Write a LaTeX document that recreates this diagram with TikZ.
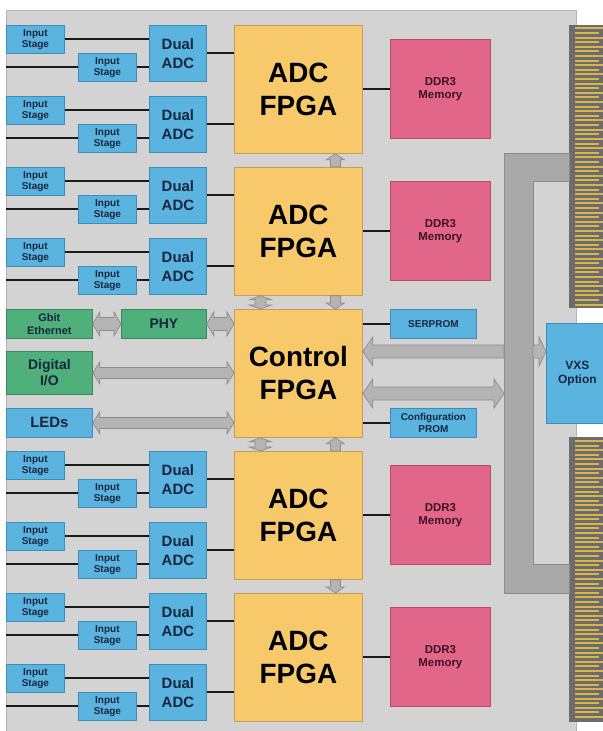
\documentclass[tikz,border=0pt]{standalone}
\usepackage{fontspec}
\setmainfont{Liberation Sans}
\usetikzlibrary{calc}
\definecolor{boardc}{HTML}{D3D3D3}
\definecolor{boardedge}{HTML}{B4B4B4}
\definecolor{bluec}{HTML}{5AB4DF}
\definecolor{blueedge}{HTML}{3C8DB8}
\definecolor{yelc}{HTML}{F7C96B}
\definecolor{yeledge}{HTML}{C49E52}
\definecolor{pinkc}{HTML}{E26689}
\definecolor{pinkedge}{HTML}{B84D6B}
\definecolor{greenc}{HTML}{4FB07B}
\definecolor{greenedge}{HTML}{3A8A5E}
\definecolor{busc}{HTML}{A9A9A9}
\definecolor{busedge}{HTML}{8A8A8A}
\definecolor{arrc}{HTML}{B4B4B4}
\definecolor{arredge}{HTML}{8C8C8C}
\definecolor{connc}{HTML}{6C6C6C}
\definecolor{goldc}{HTML}{D9B54E}
\definecolor{navy}{HTML}{17263D}
\definecolor{maroon}{HTML}{3E1424}
\definecolor{wirec}{HTML}{1A1A1A}
\newcommand\hdarrow[5]{\filldraw[barrow] let \p1=#1, \p2=#2 in
 (\x1,\y1) -- (\x1+#5,\y1+#4) -- (\x1+#5,\y1+#3) -- (\x2-#5,\y1+#3) -- (\x2-#5,\y1+#4) -- (\x2,\y1)
 -- (\x2-#5,\y1-#4) -- (\x2-#5,\y1-#3) -- (\x1+#5,\y1-#3) -- (\x1+#5,\y1-#4) -- cycle;}
\newcommand\hlarrow[5]{\filldraw[barrow] let \p1=#1, \p2=#2 in
 (\x1,\y1) -- (\x1+#5,\y1+#4) -- (\x1+#5,\y1+#3) -- (\x2,\y1+#3) -- (\x2,\y1-#3) -- (\x1+#5,\y1-#3) -- (\x1+#5,\y1-#4) -- cycle;}
\newcommand\hrarrow[5]{\filldraw[barrow] let \p1=#1, \p2=#2 in
 (\x1,\y1+#3) -- (\x2-#5,\y1+#3) -- (\x2-#5,\y1+#4) -- (\x2,\y1) -- (\x2-#5,\y1-#4) -- (\x2-#5,\y1-#3) -- (\x1,\y1-#3) -- cycle;}
\newcommand\vuarrow[5]{\filldraw[barrow] let \p1=#1, \p2=#2 in
 (\x1,\y1) -- (\x1+#4,\y1-#5) -- (\x1+#3,\y1-#5) -- (\x1+#3,\y2) -- (\x1-#3,\y2) -- (\x1-#3,\y1-#5) -- (\x1-#4,\y1-#5) -- cycle;}
\newcommand\vdnarrow[5]{\filldraw[barrow] let \p1=#1, \p2=#2 in
 (\x1,\y2) -- (\x1+#4,\y2+#5) -- (\x1+#3,\y2+#5) -- (\x1+#3,\y1) -- (\x1-#3,\y1) -- (\x1-#3,\y2+#5) -- (\x1-#4,\y2+#5) -- cycle;}
\newcommand\vdarrow[5]{\filldraw[barrow] let \p1=#1, \p2=#2 in
 (\x1,\y1) -- (\x1+#4,\y1-#5) -- (\x1+#3,\y1-#5) -- (\x1+#3,\y2+#5) -- (\x1+#4,\y2+#5) -- (\x1,\y2)
 -- (\x1-#4,\y2+#5) -- (\x1-#3,\y2+#5) -- (\x1-#3,\y1-#5) -- (\x1-#4,\y1-#5) -- cycle;}
\begin{document}
\begin{tikzpicture}[x=1bp,y=-1bp,
  box/.style={anchor=north west, inner sep=0pt, align=center, line width=0.8bp, font=\bfseries},
  fpga/.style={box, fill=yelc, draw=yeledge, minimum width=128bp, minimum height=128bp, text=black,
    font=\bfseries\fontsize{28}{33}\selectfont},
  dadc/.style={box, fill=bluec, draw=blueedge, minimum width=57bp, minimum height=56bp, text=navy,
    font=\bfseries\fontsize{15}{19}\selectfont},
  ins/.style={box, fill=bluec, draw=blueedge, minimum width=58bp, minimum height=28bp, text=navy,
    font=\bfseries\fontsize{10}{11.5}\selectfont},
  ddr/.style={box, fill=pinkc, draw=pinkedge, minimum width=100bp, minimum height=99bp, text=maroon,
    font=\bfseries\fontsize{11.5}{13}\selectfont},
  bluebox/.style={box, fill=bluec, draw=blueedge, text=navy},
  greenbox/.style={box, fill=greenc, draw=greenedge, text=navy},
  wire/.style={draw=wirec, line width=2bp},
  barrow/.style={fill=arrc, draw=arredge, line width=0.7bp},
  goldline/.style={draw=goldc, line width=2bp}]
\useasboundingbox (0,0) rectangle (603,731);
\fill[white] (0,0) rectangle (603,731);
\filldraw[fill=boardc, draw=boardedge, line width=0.8bp] (6,10) rectangle (576,736);
\coordinate (bl) at (6,0);

% connectors
\fill[connc] (569,25) rectangle (607,308);
\foreach \i in {0,...,60} {
  \pgfmathsetmacro\xe{isodd(\i) ? 599 : 603}
  \draw[goldline] (575,28.5+\i*4.6) -- (\xe,28.5+\i*4.6);
}
\fill[connc] (569,437) rectangle (607,722);
\foreach \i in {0,...,60} {
  \pgfmathsetmacro\xe{isodd(\i) ? 599 : 603}
  \draw[goldline] (575,441+\i*4.6) -- (\xe,441+\i*4.6);
}

% bus
\filldraw[fill=busc, draw=busedge, line width=0.8bp]
  (504,153) -- (569,153) -- (569,181) -- (533,181) -- (533,564) -- (569,564) -- (569,593) -- (504,593) -- cycle;
\coordinate (busA) at (504,351.5);
\coordinate (busB) at (533,351.5);
\coordinate (busC) at (504,393.5);

% ADC groups
\foreach \n/\o in {a/0,b/142,c/426,d/568} {
  \node[fpga] (adc\n) at (234,25+\o) {ADC\\FPGA};
  \node[dadc] (dA\n) at (149,25+\o) {Dual\\ADC};
  \node[dadc] (dB\n) at (149,96+\o) {Dual\\ADC};
  \node[ins] (iAu\n) at (6,25+\o) {Input\\Stage};
  \node[ins] (iAl\n) at (78,53+\o) {Input\\Stage};
  \node[ins] (iBu\n) at (6,96+\o) {Input\\Stage};
  \node[ins] (iBl\n) at (78,124+\o) {Input\\Stage};
  \node[ddr] (ddr\n) at (390,39+\o) {DDR3\\Memory};
  \draw[wire] (iAu\n.east) -- (iAu\n.east -| dA\n.west);
  \draw[wire] (iAl\n.west -| bl) -- (iAl\n.west);
  \draw[wire] (iAl\n.east) -- (iAl\n.east -| dA\n.west);
  \draw[wire] (iBu\n.east) -- (iBu\n.east -| dB\n.west);
  \draw[wire] (iBl\n.west -| bl) -- (iBl\n.west);
  \draw[wire] (iBl\n.east) -- (iBl\n.east -| dB\n.west);
  \draw[wire] (dA\n.east) -- (dA\n.east -| adc\n.west);
  \draw[wire] (dB\n.east) -- (dB\n.east -| adc\n.west);
  \draw[wire] (adc\n.east) -- (adc\n.east -| ddr\n.west);
}

% control group
\node[fpga] (ctrl) at (234,309) {Control\\FPGA};
\node[greenbox, minimum width=86bp, minimum height=29bp, font=\bfseries\fontsize{11}{12.5}\selectfont] (gbit) at (6,309) {Gbit\\Ethernet};
\node[greenbox, minimum width=85bp, minimum height=29bp, font=\bfseries\fontsize{14}{16}\selectfont] (phy) at (121,309) {PHY};
\node[greenbox, minimum width=86bp, minimum height=43bp, font=\bfseries\fontsize{14}{16}\selectfont] (dio) at (6,351) {Digital\\I/O};
\node[bluebox, minimum width=86bp, minimum height=29bp, font=\bfseries\fontsize{15}{17}\selectfont] (leds) at (6,408) {LEDs};
\node[bluebox, minimum width=86bp, minimum height=29bp, font=\bfseries\fontsize{10}{12}\selectfont] (serprom) at (390,309) {SERPROM};
\node[bluebox, minimum width=86bp, minimum height=29bp, font=\bfseries\fontsize{10}{12}\selectfont] (cprom) at (390,408) {Configuration\\PROM};
\node[bluebox, minimum width=62bp, minimum height=100bp, font=\bfseries\fontsize{12}{14.5}\selectfont] (vxs) at (546,323) {VXS\\Option};

\draw[wire] (ctrl.east |- serprom.west) -- (serprom.west);
\draw[wire] (ctrl.east |- cprom.west) -- (cprom.west);

% block arrows
\hdarrow{(gbit.east)}{(phy.west)}{6.5bp}{12bp}{7bp}
\hdarrow{(phy.east)}{(phy.east -| ctrl.west)}{6.5bp}{12bp}{7bp}
\hdarrow{(dio.east)}{(dio.east -| ctrl.west)}{5.5bp}{11bp}{7bp}
\hdarrow{(leds.east)}{(leds.east -| ctrl.west)}{5.5bp}{11bp}{7bp}
\hlarrow{(ctrl.east |- busA)}{(busA)}{6.5bp}{14.5bp}{10bp}
\hrarrow{(busB)}{(vxs.west |- busB)}{6.5bp}{14.5bp}{7bp}
\hdarrow{(ctrl.east |- busC)}{(busC)}{6.5bp}{14.5bp}{10bp}

\vuarrow{($(adca.south)+(37,0)$)}{($(adcb.north)+(37,0)$)}{5bp}{9bp}{6bp}
\vdnarrow{($(adcb.south)+(37,0)$)}{($(ctrl.north)+(37,0)$)}{5bp}{9bp}{6bp}
\vdarrow{($(adcb.south)+(-38,0)$)}{($(ctrl.north)+(-38,0)$)}{5.5bp}{11bp}{4bp}
\vdarrow{($(ctrl.south)+(-38,0)$)}{($(adcc.north)+(-38,0)$)}{5.5bp}{11bp}{4bp}
\vuarrow{($(ctrl.south)+(37,0)$)}{($(adcc.north)+(37,0)$)}{5bp}{9bp}{6bp}
\vdnarrow{($(adcc.south)+(37,0)$)}{($(adcd.north)+(37,0)$)}{5bp}{9bp}{6bp}
\end{tikzpicture}
\end{document}
